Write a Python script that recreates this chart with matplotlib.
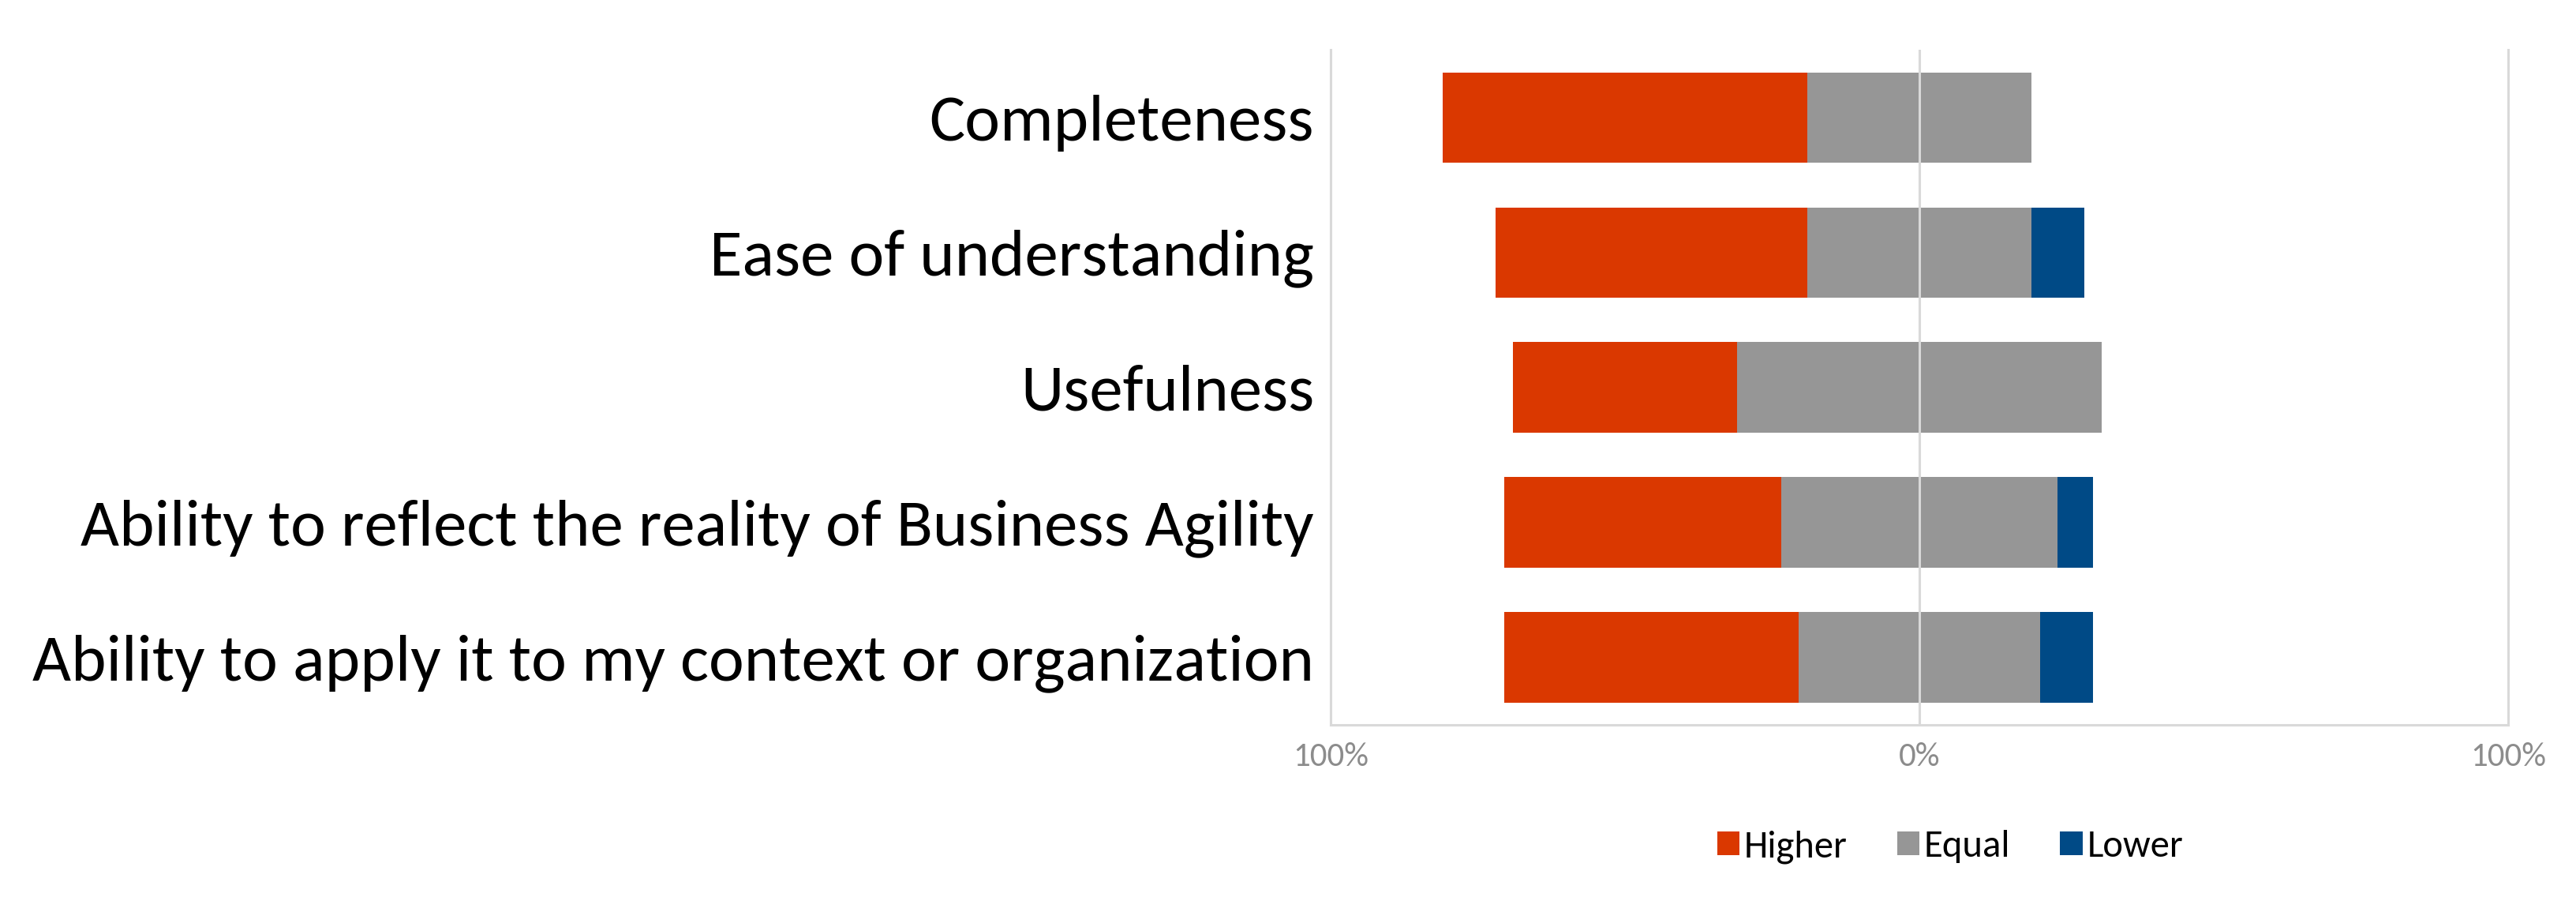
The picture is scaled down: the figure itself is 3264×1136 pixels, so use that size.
import matplotlib
matplotlib.use("Agg")
import matplotlib.pyplot as plt
import numpy as np

categories = [
    "Completeness",
    "Ease of understanding",
    "Usefulness",
    "Ability to reflect the reality of Business Agility",
    "Ability to apply it to my context or organization",
]
higher = [62, 53, 38, 47, 50]
equal = [38, 38, 62, 47, 41]
lower = [0, 9, 0, 6, 9]
series_names = ["Higher", "Equal", "Lower"]
tick_values = [-100, 0, 100]
tick_labels = ["100%", "0%", "100%"]

colors = ["#DA3800", "#969696", "#004A86"]
grid_color = "#D9D9D9"
font = ["Carlito", "DejaVu Sans"]

fig = plt.figure(figsize=(32.64, 11.36), dpi=100)
ax = fig.add_axes([0.5165, 0.1919, 0.9737 - 0.5165, 0.9445 - 0.1919])

h = np.array(higher, float)
e = np.array(equal, float)
l = np.array(lower, float)
y = np.arange(len(categories))
start = -(h + e / 2)

bh = 0.667
ax.barh(y, h, left=start, height=bh, color=colors[0], label=series_names[0], zorder=2)
ax.barh(y, e, left=start + h, height=bh, color=colors[1], label=series_names[1], zorder=2)
ax.barh(y, l, left=start + h + e, height=bh, color=colors[2], label=series_names[2], zorder=2)

ax.set_xlim(-100, 100)
ax.set_ylim(len(categories) - 0.5, -0.5)

ax.axvline(0, color=grid_color, lw=2.2, zorder=3)
ax.spines["top"].set_visible(False)
for s in ["left", "right", "bottom"]:
    ax.spines[s].set_color(grid_color)
    ax.spines[s].set_linewidth(2.2)

ax.set_xticks(tick_values)
ax.set_xticklabels(tick_labels, fontsize=31, color="#8C8C8C", family=font)
ax.set_yticks(y)
ax.set_yticklabels(categories, fontsize=61, color="black", family=font)
ax.tick_params(axis="x", length=0, pad=16)
ax.tick_params(axis="y", length=0, pad=15)

leg = fig.legend(loc="center", bbox_to_anchor=(0.757, 0.056), ncol=3, frameon=False,
                 prop={"family": font, "size": 35},
                 handlelength=0.58, handleheight=0.58, handletextpad=0.12,
                 columnspacing=1.3)

fig.savefig("out.png", dpi=100, facecolor="white")
